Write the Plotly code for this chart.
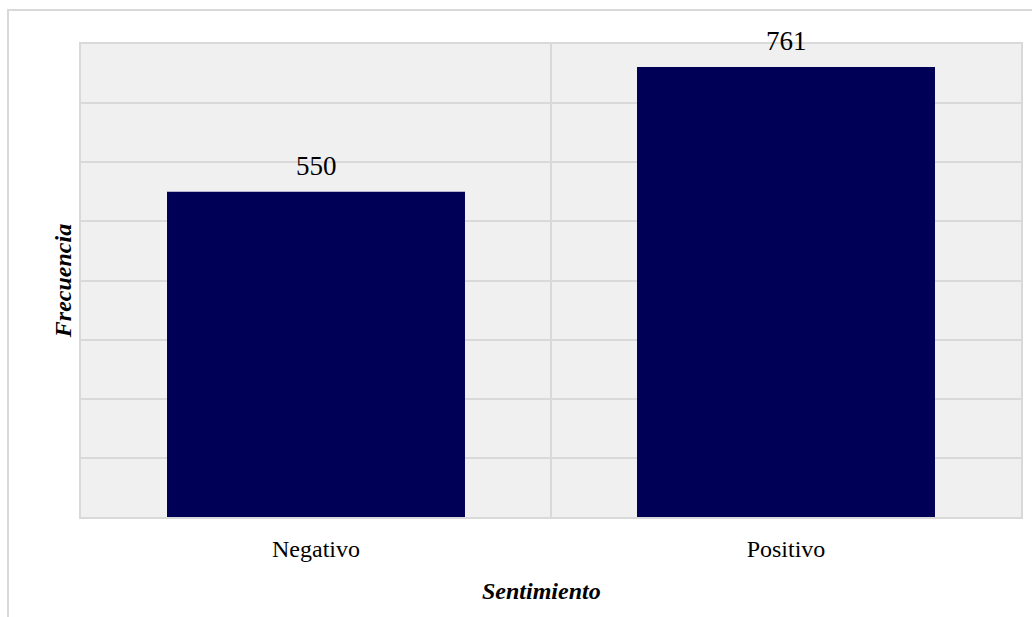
import plotly.graph_objects as go

categories = ["Negativo", "Positivo"]
values = [550, 761]

fig = go.Figure()
fig.add_trace(go.Bar(
    x=categories, y=values,
    marker=dict(color="#000057", line=dict(width=0)),
    hoverinfo="skip",
))

for c, v in zip(categories, values):
    fig.add_annotation(x=c, y=v, text=str(v), showarrow=False,
                       yanchor="bottom", yshift=9,
                       font=dict(family="Liberation Serif", size=27, color="#000000"))

# x-axis title (slightly left of centre, as in the reference)
fig.add_annotation(xref="paper", yref="paper", x=(541 - 81) / 940, y=(517 - 591) / 473,
                   text="<b><i>Sentimiento</i></b>", showarrow=False,
                   xanchor="center", yanchor="middle",
                   font=dict(family="Liberation Serif", size=24, color="#000000"))

# outer figure frame (left and top edges visible)
fig.add_shape(type="rect", xref="paper", yref="paper",
              x0=(8 - 81) / 940, x1=1.2, y0=-0.5, y1=(517 - 10) / 473,
              line=dict(color="#d9d9d9", width=2), fillcolor="rgba(0,0,0,0)", layer="below")

fig.update_layout(
    width=1032, height=617,
    margin=dict(l=81, r=11, t=44, b=100, autoexpand=False),
    paper_bgcolor="white", plot_bgcolor="#f0f0f0",
    bargap=0.366, showlegend=False,
    font=dict(family="Liberation Serif", color="#000000"),
)
fig.update_xaxes(
    tickson="boundaries", showgrid=True, gridcolor="#d9d9d9", gridwidth=2,
    showline=True, linecolor="#d9d9d9", linewidth=2, mirror=True,
    ticks="", ticklabelstandoff=9,
    tickfont=dict(family="Liberation Serif", size=24, color="#000000"),
    automargin=False,
)
fig.update_yaxes(
    range=[0, 800], dtick=100, showticklabels=False, ticks="",
    showgrid=True, gridcolor="#d9d9d9", gridwidth=2, zeroline=False,
    showline=True, linecolor="#d9d9d9", linewidth=2, mirror=True,
    title=dict(text="<b><i>Frecuencia</i></b>", standoff=1,
               font=dict(family="Liberation Serif", size=24, color="#000000")),
    automargin=False,
)

fig.write_html("out.html")
